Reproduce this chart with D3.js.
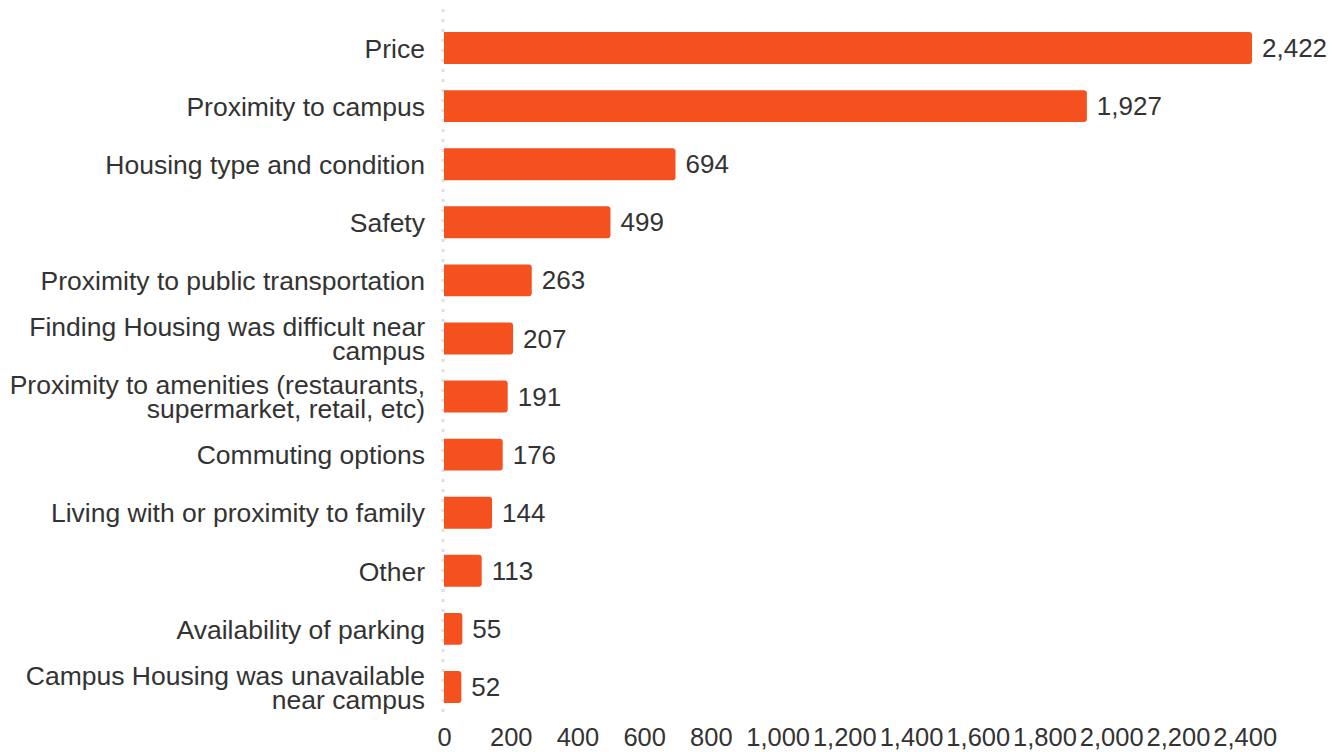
<!DOCTYPE html>
<html><head><meta charset="utf-8">
<script src="https://cdn.jsdelivr.net/npm/d3@7"></script>
<style>body{margin:0;background:#fff}svg{display:block}text{font-family:"Liberation Sans",Arial,sans-serif}</style>
</head><body>
<svg id="c" width="1339" height="752"></svg>
<script>
const categories = [
  ["Price"],
  ["Proximity to campus"],
  ["Housing type and condition"],
  ["Safety"],
  ["Proximity to public transportation"],
  ["Finding Housing was difficult near","campus"],
  ["Proximity to amenities (restaurants,","supermarket, retail, etc)"],
  ["Commuting options"],
  ["Living with or proximity to family"],
  ["Other"],
  ["Availability of parking"],
  ["Campus Housing was unavailable","near campus"]
];
const values = [2422,1927,694,499,263,207,191,176,144,113,55,52];
const tickValues = [0,200,400,600,800,1000,1200,1400,1600,1800,2000,2200,2400];

const svg = d3.select("#c");
const x = d3.scaleLinear().domain([0,2422]).range([444,1252]);
const y = d3.scaleBand().domain(d3.range(values.length)).range([19,716]).paddingInner(0.45).paddingOuter(0.225);
const fmt = d3.format(",");
const FS = 26, LFS = 26.5, TFS = 25.5;

svg.append("line").attr("x1",x(0)-1).attr("x2",x(0)-1).attr("y1",9).attr("y2",716)
  .attr("stroke","#e0e0e0").attr("stroke-width",3).attr("stroke-dasharray","3,7");

const g = svg.append("g");
values.forEach((v,i)=>{
  const x0=x(0), x1=x(v), y0=y(i), h=y.bandwidth(), r=3;
  g.append("path").attr("fill","#F4511E")
   .attr("d",`M${x0},${y0}H${x1-r}Q${x1},${y0} ${x1},${y0+r}V${y0+h-r}Q${x1},${y0+h} ${x1-r},${y0+h}H${x0}Z`);
  g.append("text").attr("x",x1+10).attr("y",y0+h/2).attr("dy","0.35em")
   .attr("font-size",FS).attr("fill","#333").text(fmt(v));
  const lines = categories[i];
  const t = g.append("text").attr("x",425).attr("text-anchor","end").attr("font-size",LFS).attr("fill","#333");
  lines.forEach((l,j)=>{
    t.append("tspan").attr("x",425).attr("y",y0+h/2+0.5+(j-(lines.length-1)/2)*24).attr("dy","0.35em").text(l);
  });
});

const axis = d3.axisBottom(x).tickValues(tickValues).tickFormat(fmt).tickSize(0).tickPadding(0);
const ag = svg.append("g").attr("transform","translate(0,728)").call(axis);
ag.select(".domain").remove();
ag.selectAll("text").attr("font-size",TFS).attr("fill","#333").attr("dy","0.71em")
  .style("font-family",'"Liberation Sans",Arial,sans-serif');
</script>
</body></html>
